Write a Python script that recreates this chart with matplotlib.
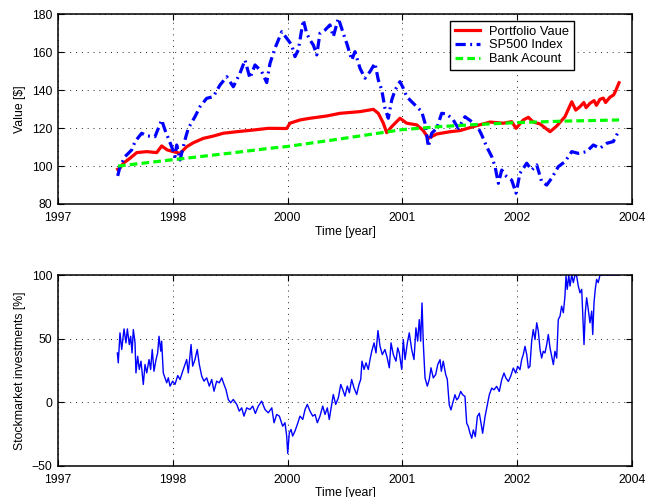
import matplotlib
matplotlib.use("Agg")
import matplotlib.pyplot as plt

plt.rcParams['font.family'] = ['Liberation Sans', 'DejaVu Sans']

# x axis: tick-index units (ticks at 0..5)
tick_labels = ['1997', '1998', '2000', '2001', '2002', '2004']
yticks_top = [80, 100, 120, 140, 160, 180]
yticks_bot = [-50, 0, 50, 100]

# Portfolio value
port_t = [0.520, 0.540, 0.569, 0.627, 0.686, 0.773, 0.860, 0.903, 0.952, 1.004,
          1.063, 1.121, 1.179, 1.266, 1.353, 1.440, 1.557, 1.701, 1.832, 1.992,
          2.021, 2.108, 2.195, 2.341, 2.456, 2.631, 2.747, 2.790, 2.834, 2.863,
          2.907, 2.979, 3.037, 3.125, 3.182, 3.226, 3.299, 3.415, 3.502, 3.618,
          3.763, 3.879, 3.952, 3.990, 4.053, 4.097, 4.140, 4.199, 4.286, 4.344,
          4.416, 4.475, 4.510, 4.547, 4.580, 4.600, 4.634, 4.670, 4.690, 4.721,
          4.750, 4.770, 4.808, 4.840, 4.860, 4.887]
port_v = [98.3, 99.0, 101.5, 104.1, 107.1, 107.6, 107.1, 110.6, 108.5, 107.6,
          106.7, 110.2, 112.3, 114.6, 115.8, 117.3, 118.1, 119.0, 119.9, 119.8,
          122.6, 124.3, 125.2, 126.4, 127.8, 128.7, 129.9, 127.8, 122.6, 117.6,
          120.8, 125.2, 122.6, 121.7, 118.7, 114.6, 116.9, 118.1, 118.7, 120.8,
          123.2, 122.6, 123.4, 119.9, 124.3, 125.7, 123.2, 122.2, 118.1, 121.1,
          126.0, 133.9, 129.5, 131.3, 133.5, 130.8, 133.1, 134.5, 132.0, 135.2,
          135.8, 133.5, 136.3, 137.5, 140.0, 143.9]

# SP500 index
sp_t = [0.520, 0.540, 0.584, 0.642, 0.671, 0.729, 0.773, 0.845, 0.903, 0.932,
        0.961, 0.990, 1.019, 1.034, 1.063, 1.106, 1.135, 1.193, 1.237, 1.295,
        1.353, 1.411, 1.470, 1.527, 1.585, 1.629, 1.672, 1.716, 1.774, 1.818,
        1.847, 1.890, 1.949, 1.992, 2.036, 2.064, 2.093, 2.137, 2.166, 2.195,
        2.224, 2.254, 2.282, 2.326, 2.369, 2.398, 2.442, 2.485, 2.520, 2.558,
        2.587, 2.631, 2.674, 2.718, 2.761, 2.790, 2.820, 2.848, 2.877, 2.907,
        2.936, 2.979, 3.008, 3.037, 3.081, 3.125, 3.168, 3.197, 3.226, 3.255,
        3.299, 3.342, 3.386, 3.443, 3.487, 3.545, 3.604, 3.647, 3.691, 3.734,
        3.778, 3.807, 3.836, 3.865, 3.909, 3.952, 3.990, 4.024, 4.083, 4.126,
        4.170, 4.213, 4.257, 4.300, 4.358, 4.416, 4.475, 4.532, 4.605, 4.663,
        4.721, 4.780, 4.837, 4.881]
sp_v = [94.8, 99.7, 105.0, 108.5, 112.9, 117.3, 115.9, 115.5, 124.3, 119.0,
        114.6, 110.2, 105.0, 111.1, 103.2, 113.8, 119.9, 126.0, 131.3, 135.7,
        136.6, 142.7, 147.1, 141.8, 148.9, 155.9, 146.3, 153.3, 149.8, 144.0,
        154.2, 162.1, 170.8, 167.4, 163.8, 157.7, 161.2, 177.0, 170.0, 166.5,
        163.8, 158.6, 170.0, 171.7, 174.4, 168.2, 177.9, 170.0, 163.8, 155.9,
        160.3, 151.5, 146.3, 149.8, 154.2, 145.4, 140.1, 130.5, 125.2, 134.8,
        140.1, 144.5, 141.0, 136.6, 133.9, 131.3, 128.7, 122.6, 110.2, 117.3,
        119.9, 127.8, 127.5, 124.3, 119.9, 126.0, 123.4, 121.7, 116.4, 110.2,
        105.0, 99.7, 90.9, 97.9, 94.4, 92.6, 85.7, 96.2, 101.5, 97.9,
        100.6, 91.8, 90.0, 93.6, 99.7, 102.3, 107.6, 106.7, 107.6, 111.1,
        109.4, 112.0, 112.9, 118.1]

# Bank account
bank_t = [0.523, 0.993, 1.498, 1.847, 1.995, 2.456, 2.997, 3.328, 3.618, 3.990, 4.416, 4.887]
bank_v = [100.0, 103.3, 106.8, 109.4, 110.3, 114.3, 119.2, 120.8, 121.8, 122.9, 123.7, 124.3]

# Stockmarket investments [%]
stock_t = [0.517, 0.525, 0.540, 0.555, 0.575, 0.592, 0.604, 0.621, 0.633, 0.645,
           0.656, 0.671, 0.679, 0.694, 0.708, 0.723, 0.743, 0.758, 0.773, 0.793,
           0.807, 0.821, 0.836, 0.854, 0.868, 0.880, 0.895, 0.903, 0.917, 0.932,
           0.947, 0.961, 0.976, 0.999, 1.019, 1.043, 1.063, 1.086, 1.106, 1.121,
           1.135, 1.150, 1.159, 1.173, 1.193, 1.213, 1.231, 1.252, 1.272, 1.295,
           1.318, 1.339, 1.359, 1.382, 1.405, 1.426, 1.446, 1.463, 1.483, 1.504,
           1.527, 1.557, 1.579, 1.600, 1.620, 1.644, 1.672, 1.696, 1.719, 1.745,
           1.774, 1.803, 1.832, 1.862, 1.882, 1.905, 1.928, 1.957, 1.977, 1.992,
           2.001, 2.015, 2.030, 2.044, 2.064, 2.085, 2.108, 2.132, 2.152, 2.172,
           2.195, 2.219, 2.239, 2.259, 2.282, 2.306, 2.326, 2.346, 2.363, 2.384,
           2.398, 2.419, 2.442, 2.463, 2.480, 2.500, 2.520, 2.538, 2.558, 2.578,
           2.602, 2.622, 2.637, 2.648, 2.666, 2.683, 2.703, 2.718, 2.733, 2.753,
           2.770, 2.787, 2.805, 2.825, 2.848, 2.868, 2.886, 2.901, 2.921, 2.944,
           2.959, 2.973, 2.994, 3.008, 3.023, 3.043, 3.060, 3.081, 3.101, 3.118,
           3.133, 3.147, 3.159, 3.171, 3.182, 3.197, 3.217, 3.234, 3.249, 3.269,
           3.290, 3.308, 3.328, 3.339, 3.356, 3.377, 3.391, 3.408, 3.423, 3.438,
           3.458, 3.473, 3.487, 3.508, 3.525, 3.545, 3.560, 3.574, 3.589, 3.604,
           3.618, 3.635, 3.653, 3.670, 3.685, 3.699, 3.720, 3.734, 3.757, 3.778,
           3.798, 3.821, 3.844, 3.865, 3.885, 3.902, 3.923, 3.943, 3.966, 3.987,
           4.004, 4.024, 4.039, 4.053, 4.068, 4.083, 4.097, 4.111, 4.126, 4.140,
           4.155, 4.170, 4.184, 4.199, 4.213, 4.227, 4.242, 4.257, 4.271, 4.286,
           4.300, 4.315, 4.329, 4.344, 4.358, 4.373, 4.387, 4.402, 4.416, 4.425,
           4.436, 4.449, 4.460, 4.475, 4.489, 4.503, 4.518, 4.532, 4.547, 4.562,
           4.582, 4.593, 4.605, 4.619, 4.634, 4.649, 4.658, 4.669, 4.680, 4.692,
           4.706, 4.721, 4.895]
stock_v = [38.7, 30.9, 54.5, 41.4, 57.6, 46.6, 57.6, 45.3, 51.8, 38.7,
           57.1, 46.6, 23.0, 36.1, 25.7, 32.2, 13.9, 29.6, 23.0, 33.5,
           25.7, 41.4, 24.3, 33.5, 38.7, 51.8, 40.1, 47.9, 23.0, 19.1,
           15.2, 19.1, 12.6, 16.5, 13.9, 20.9, 17.8, 24.3, 29.6, 33.5,
           23.0, 37.4, 45.3, 28.3, 33.5, 41.4, 29.6, 20.4, 16.5, 19.1,
           12.6, 17.8, 8.6, 16.5, 15.2, 19.1, 13.9, 9.9, 2.1, -0.5,
           2.1, -1.8, -7.1, -4.5, -11.0, -4.5, -5.8, -3.1, -8.9, -3.1,
           0.8, -5.8, -8.4, -4.5, -16.2, -9.7, -11.0, -18.9, -16.2, -26.7,
           -40.3, -24.1, -21.5, -26.7, -22.8, -17.5, -11.0, -13.6, -5.8, -1.8,
           -7.1, -11.0, -9.7, -16.2, -11.0, -3.1, -9.7, -4.5, -13.6, -1.8,
           6.0, -1.8, 3.4, 13.9, 9.9, 4.7, 12.6, 7.3, 17.8, 11.3,
           6.0, 13.9, 17.8, 32.2, 25.7, 30.9, 25.7, 33.5, 40.1, 46.6,
           38.7, 56.3, 44.0, 37.4, 41.4, 34.8, 27.0, 46.6, 37.4, 32.2,
           42.7, 38.7, 25.7, 49.2, 33.5, 46.6, 54.5, 41.4, 33.5, 58.4,
           48.0, 64.9, 48.0, 78.0, 46.6, 19.1, 12.6, 17.8, 27.0, 19.1,
           21.7, 29.6, 33.4, 24.3, 32.2, 21.7, 18.0, -2.1, -6.1, -0.8,
           5.8, 1.8, 3.2, 8.4, 5.8, 4.5, -16.6, -19.2, -24.5, -28.4,
           -21.9, -27.1, -11.3, -8.7, -16.6, -24.5, -11.3, -4.7, 5.8, 11.0,
           9.7, 12.4, 8.4, 17.6, 22.9, 18.9, 16.3, 20.3, 26.8, 22.9,
           28.2, 25.5, 33.4, 37.4, 43.9, 37.4, 26.8, 28.2, 47.9, 57.1,
           49.2, 62.4, 55.8, 41.3, 34.7, 40.0, 38.7, 45.3, 53.2, 42.6,
           36.1, 29.5, 40.0, 34.7, 65.0, 67.6, 75.5, 70.3, 83.4, 99.2,
           88.7, 100.0, 91.3, 100.0, 94.0, 100.0, 99.2, 91.3, 86.0, 88.7,
           45.3, 70.3, 82.1, 72.9, 62.4, 71.6, 53.2, 78.2, 88.7, 96.6,
           94.0, 100.0, 100.0]

W, H = 658, 497
fig = plt.figure(figsize=(W / 100, H / 100), dpi=100)

FS = 8.8
grid_kw = dict(color='#222222', linestyle=(0, (1, 5)), linewidth=0.7)


def style_axes(ax, yticks, ylim):
    ax.set_xlim(0, 5)
    ax.set_ylim(*ylim)
    ax.set_xticks(range(len(tick_labels)))
    ax.set_xticklabels(tick_labels)
    ax.set_yticks(yticks)
    ax.tick_params(direction='in', top=True, right=True, length=4, width=0.8,
                   labelsize=FS)
    ax.tick_params(axis='x', pad=6)
    ax.tick_params(axis='y', pad=4)
    ax.grid(True, **grid_kw)
    for s in ax.spines.values():
        s.set_linewidth(1.1)
        s.set_color('k')
    ax.set_xlabel('Time [year]', fontsize=FS, labelpad=1)


ax1 = fig.add_axes([58 / W, 1 - 204 / H, 574 / W, 189.7 / H])
ax1.plot(port_t, port_v, color=(1, 0, 0), lw=2.3, label='Portfolio Vaue')
ax1.plot(sp_t, sp_v, color=(0, 0, 1), lw=2.3, linestyle=(0, (3.2, 1.4, 0.6, 1.4)),
         label='SP500 Index')
ax1.plot(bank_t, bank_v, color=(0, 1, 0), lw=2.3, linestyle=(0, (2.4, 1.3)),
         label='Bank Acount')
style_axes(ax1, yticks_top, (80, 180))
ax1.set_ylabel('Value [$]', fontsize=FS, labelpad=4)
leg = ax1.legend(loc='upper left', bbox_to_anchor=(0.683, 0.965), borderaxespad=0,
                 fontsize=9.3, fancybox=False, framealpha=1, edgecolor='k',
                 handlelength=2.0, handletextpad=0.7, labelspacing=0.15,
                 borderpad=0.35)
leg.get_frame().set_linewidth(1.0)

ax2 = fig.add_axes([58 / W, 1 - 465.7 / H, 574 / W, 190.7 / H])
ax2.plot(stock_t, stock_v, color=(0, 0, 1), lw=1.0)
style_axes(ax2, yticks_bot, (-50, 100))
ax2.set_ylabel('Stockmarket investments [%]', fontsize=FS, labelpad=4)

fig.savefig('out.png', dpi=100)
